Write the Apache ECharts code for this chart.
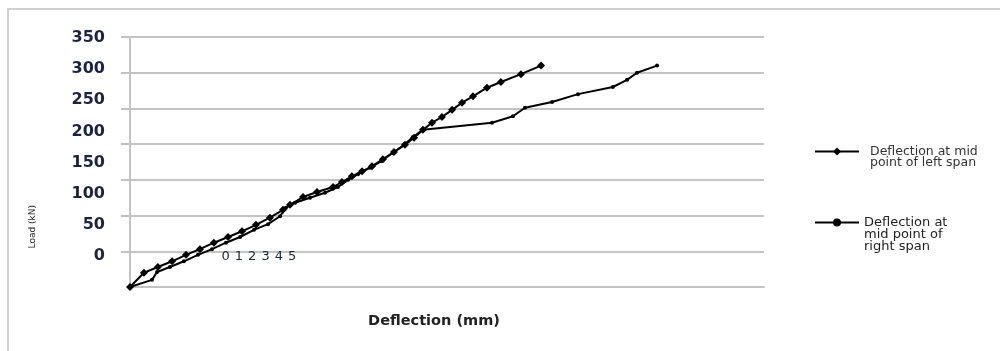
<!DOCTYPE html>
<html>
<head>
<meta charset="utf-8">
<script src="https://cdn.jsdelivr.net/npm/echarts/dist/echarts.min.js"></script>
<style>html,body{margin:0;padding:0;background:#fff;}#c{width:1000px;height:351px;}</style>
</head>
<body>
<div id="c"></div>
<script>
// ---- data ----
const leftSpanName = 'Deflection at mid point of left span';
const rightSpanName = 'Deflection at mid point of right span';
const leftSpanDefl = [0, 0.66, 1.32, 1.99, 2.65, 3.31, 3.97, 4.64, 5.30, 5.96, 6.62, 7.24, 7.57, 8.19, 8.85, 9.61, 10.03, 10.50, 10.98, 11.45, 11.97, 12.49, 13.01, 13.44, 13.86, 14.29, 14.76, 15.24, 15.71, 16.23, 16.89, 17.55, 18.50, 19.45];
const leftSpanLoad = [0, 20, 28, 36, 45, 53, 62, 70, 78, 87, 97, 108, 115, 126, 133, 140, 147, 155, 162, 169, 179, 189, 199, 209, 220, 230, 238, 248, 258, 267, 279, 287, 298, 310];
const rightSpanDefl = [0, 1.04, 1.28, 1.89, 2.55, 3.22, 3.88, 4.54, 5.21, 5.87, 6.53, 7.10, 7.38, 7.81, 8.52, 9.23, 9.84, 10.32, 10.79, 11.36, 11.88, 12.44, 12.97, 13.39, 13.86, 17.13, 18.12, 18.69, 19.97, 21.20, 22.85, 23.52, 23.99, 24.94];
const rightSpanLoad = [0, 10, 21, 28, 36, 45, 53, 62, 70, 80, 88, 99, 111, 118, 125, 132, 140, 150, 158, 167, 176, 188, 199, 210, 220, 230, 239, 251, 259, 270, 280, 290, 300, 310];
const yTickLabels = [0, 50, 100, 150, 200, 250, 300, 350];
const xTickLabels = [0, 1, 2, 3, 4, 5];
const xAxisTitle = 'Deflection (mm)';
const yAxisTitle = 'Load (kN)';
const leftLegendText = '\nDeflection at mid\npoint of left span';
const rightLegendText = '\n\nDeflection at\nmid point of\nright span';

const zip = (a, b) => a.map((v, i) => [v, b[i]]);
const grey = '#c3c3c3';
const labelColor = '#1c2340';

const chart = echarts.init(document.getElementById('c'), null, {renderer: 'canvas'});
chart.setOption({
  animation: false,
  backgroundColor: '#ffffff',
  textStyle: {fontFamily: 'DejaVu Sans'},
  grid: [
    // main plot
    {left: 130, top: 37, right: 236, bottom: 64},
    // displaced tick-label layer
    {left: 113, top: 38, right: 236, bottom: 95},
    // outer frame
    {left: 8, top: 9, right: 0, bottom: 0}
  ],
  xAxis: [
    {gridIndex: 0, type: 'value', min: 0, max: 30,
     axisLine: {show: true, onZero: false, lineStyle: {color: grey, width: 2}}, axisTick: {show: false},
     axisLabel: {show: false}, splitLine: {show: false},
     name: xAxisTitle, nameLocation: 'middle', nameGap: 27,
     nameTextStyle: {fontFamily: 'DejaVu Sans', fontWeight: 'bold', fontSize: 14.5, color: '#222', padding: [0, 26, 0, 0]}},
    {gridIndex: 1, type: 'value', min: -8.47, max: 40.48,
     axisLine: {show: false}, axisTick: {show: false}, splitLine: {show: false},
     axisLabel: {show: true, customValues: xTickLabels, margin: -6, fontSize: 13, color: labelColor, fontFamily: 'DejaVu Sans'}},
    {gridIndex: 2, type: 'value', position: 'top', min: 0, max: 1,
     axisLine: {show: true, onZero: false, lineStyle: {color: '#d0d0d0', width: 2}},
     axisTick: {show: false}, axisLabel: {show: false}, splitLine: {show: false}}
  ],
  yAxis: [
    {gridIndex: 0, type: 'value', min: 0, max: 350, interval: 50,
     axisLine: {show: true, onZero: false, lineStyle: {color: grey, width: 2}},
     axisTick: {show: true, length: 9, inside: false, customValues: [50, 100, 150, 200, 250, 300, 350], lineStyle: {color: grey, width: 2}},
     axisLabel: {show: false},
     splitLine: {show: true, lineStyle: {color: grey, width: 2}}},
    {gridIndex: 1, type: 'value', min: 0, max: 350, interval: 50,
     axisLine: {show: false}, axisTick: {show: false}, splitLine: {show: false},
     axisLabel: {show: true, margin: 8, fontSize: 16, fontWeight: 'bold', color: labelColor, fontFamily: 'DejaVu Sans',
                 formatter: v => yTickLabels.includes(v) ? String(v) : ''}},
    {gridIndex: 2, type: 'value', position: 'left', min: 0, max: 1,
     axisLine: {show: true, onZero: false, lineStyle: {color: '#d0d0d0', width: 2}},
     axisTick: {show: false}, axisLabel: {show: false}, splitLine: {show: false}}
  ],
  legend: [
    {data: [leftSpanName], left: 814, top: 134, padding: 0, itemWidth: 44, itemHeight: 10, itemGap: 0,
     formatter: () => leftLegendText,
     textStyle: {fontSize: 12.5, lineHeight: 11, color: '#333', fontFamily: 'DejaVu Sans', padding: [0, 0, 0, 6]}},
    {data: [rightSpanName], left: 814, top: 192, padding: 0, itemWidth: 44, itemHeight: 10,
     formatter: () => rightLegendText,
     textStyle: {fontSize: 13, lineHeight: 12, color: '#222', fontFamily: 'DejaVu Sans'}}
  ],
  graphic: [
    {type: 'text', left: 28, top: 205, rotation: Math.PI / 2,
     style: {text: yAxisTitle, fontSize: 9, fill: '#222', fontFamily: 'DejaVu Sans'}}
  ],
  series: [
    {name: leftSpanName, type: 'line', xAxisIndex: 0, yAxisIndex: 0,
     data: zip(leftSpanDefl, leftSpanLoad), symbol: 'diamond', symbolSize: 8,
     lineStyle: {color: '#000', width: 2}, itemStyle: {color: '#000'}},
    {name: rightSpanName, type: 'line', xAxisIndex: 0, yAxisIndex: 0,
     data: zip(rightSpanDefl, rightSpanLoad), symbol: 'circle', symbolSize: 4,
     lineStyle: {color: '#000', width: 2}, itemStyle: {color: '#000'}}
  ]
});
</script>
</body>
</html>
